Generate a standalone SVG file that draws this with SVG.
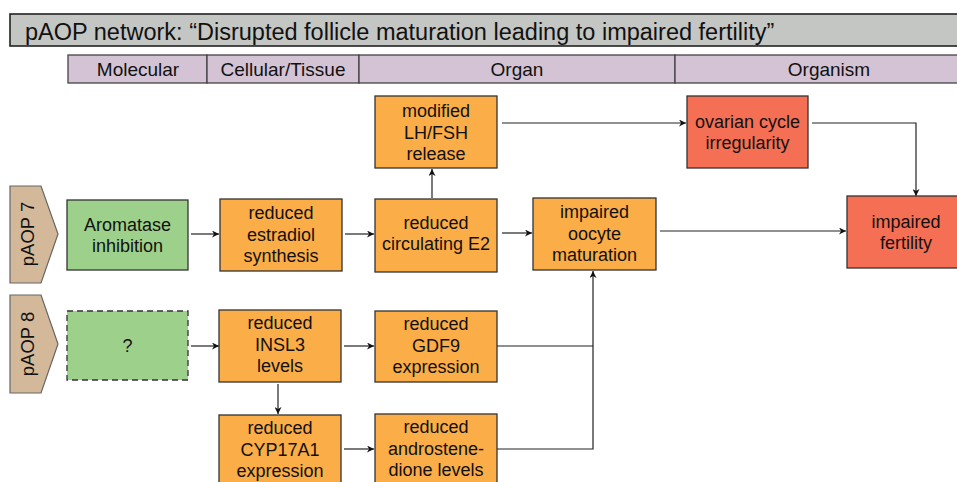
<svg xmlns="http://www.w3.org/2000/svg" width="957" height="482" viewBox="0 0 957 482">
<defs>
<marker id="ah" viewBox="0 0 10 10" refX="10" refY="5" markerWidth="8" markerHeight="7" markerUnits="userSpaceOnUse" orient="auto">
<path d="M0,0 L10,5 L0,10 L3,5 Z" fill="#111"/>
</marker>
<style>
text{font-family:"Liberation Sans",Arial,sans-serif;fill:#111;}
.t{font-size:18px;text-anchor:middle;}
.h{font-size:19px;text-anchor:middle;}
.box{stroke:#333;stroke-width:1.3;}
.g{fill:#9dd08a;}
.o{fill:#fbad48;}
.r{fill:#f46f54;}
.hd{fill:#d3c3d4;stroke:#444;stroke-width:1.3;}
.tag{fill:#d3b89a;stroke:#666;stroke-width:1.2;}
.c{fill:none;stroke:#222;stroke-width:1.2;}
.ca{fill:none;stroke:#222;stroke-width:1.2;marker-end:url(#ah);}
</style>
</defs>
<rect width="957" height="482" fill="#fff"/>
<g id="title">
<rect x="10" y="14" width="960" height="32" fill="#c4c6c4" stroke="#222" stroke-width="1.6"/>
<text x="25" y="40" style="font-size:23.5px">pAOP network: “Disrupted follicle maturation leading to impaired fertility”</text>
</g>
<g id="header">
<rect class="hd" x="68" y="55" width="139" height="28"/>
<rect class="hd" x="207" y="55" width="152" height="28"/>
<rect class="hd" x="359" y="55" width="316" height="28"/>
<rect class="hd" x="675" y="55" width="300" height="28"/>
<text class="h" x="138" y="76">Molecular</text>
<text class="h" x="283" y="76">Cellular/Tissue</text>
<text class="h" x="517" y="76">Organ</text>
<text class="h" x="829" y="76">Organism</text>
</g>
<g id="paop7">
<path class="tag" d="M10,186 L41,186 L58,234 L41,283 L10,283 Z"/>
<text transform="translate(34,234) rotate(-90)" style="font-size:18.5px;text-anchor:middle">pAOP 7</text>
</g>
<g id="paop8">
<path class="tag" d="M10,295 L41,295 L58,344 L41,393 L10,393 Z"/>
<text transform="translate(34,344) rotate(-90)" style="font-size:18.5px;text-anchor:middle">pAOP 8</text>
</g>
<g id="connectors">
<line class="ca" x1="191" y1="234" x2="219" y2="234"/>
<line class="ca" x1="345" y1="234" x2="374" y2="234"/>
<line class="ca" x1="432" y1="198" x2="432" y2="169"/>
<line class="ca" x1="502" y1="233" x2="532" y2="233"/>
<line class="ca" x1="502" y1="123" x2="686" y2="123"/>
<polyline class="ca" points="812,123 916,123 916,196"/>
<line class="ca" x1="660" y1="231" x2="846" y2="231"/>
<line class="ca" x1="191" y1="346" x2="219" y2="346"/>
<line class="ca" x1="278" y1="384" x2="278" y2="414"/>
<line class="ca" x1="344" y1="346" x2="374" y2="346"/>
<line class="ca" x1="344" y1="449" x2="374" y2="449"/>
<polyline class="c" points="497,346 593,346"/>
<polyline class="ca" points="497,449 593,449 593,271"/>
</g>
<g id="aromatase">
<rect class="box g" x="67" y="200" width="121" height="70"/>
<text class="t" x="127.5" y="230.5">Aromatase</text>
<text class="t" x="127.5" y="251.5">inhibition</text>
</g>
<g id="estradiol">
<rect class="box o" x="220" y="199" width="122" height="72"/>
<text class="t" x="281" y="219">reduced</text>
<text class="t" x="281" y="241">estradiol</text>
<text class="t" x="281" y="262">synthesis</text>
</g>
<g id="lhfsh">
<rect class="box o" x="375" y="96" width="122" height="72"/>
<text class="t" x="436" y="117">modified</text>
<text class="t" x="436" y="138.5">LH/FSH</text>
<text class="t" x="436" y="160">release</text>
</g>
<g id="e2">
<rect class="box o" x="375" y="199" width="122" height="73"/>
<text class="t" x="436" y="229">reduced</text>
<text class="t" x="436" y="250">circulating E2</text>
</g>
<g id="oocyte">
<rect class="box o" x="533" y="198" width="123" height="72"/>
<text class="t" x="594.5" y="218">impaired</text>
<text class="t" x="594.5" y="239.5">oocyte</text>
<text class="t" x="594.5" y="261">maturation</text>
</g>
<g id="ovarian">
<rect class="box r" x="687" y="96" width="121" height="72"/>
<text class="t" x="747.5" y="127.5">ovarian cycle</text>
<text class="t" x="747.5" y="148.5">irregularity</text>
</g>
<g id="fertility">
<rect class="box r" x="847" y="196" width="122" height="72"/>
<text class="t" x="906" y="228">impaired</text>
<text class="t" x="906" y="249">fertility</text>
</g>
<g id="unknown">
<rect class="box g" x="67" y="311" width="121" height="69" stroke-dasharray="6,4"/>
<text class="t" x="127.5" y="352">?</text>
</g>
<g id="insl3">
<rect class="box o" x="219" y="310" width="122" height="72"/>
<text class="t" x="280" y="329">reduced</text>
<text class="t" x="280" y="351">INSL3</text>
<text class="t" x="280" y="372">levels</text>
</g>
<g id="gdf9">
<rect class="box o" x="375" y="311" width="122" height="71"/>
<text class="t" x="436" y="330">reduced</text>
<text class="t" x="436" y="351.5">GDF9</text>
<text class="t" x="436" y="373">expression</text>
</g>
<g id="cyp17a1">
<rect class="box o" x="219" y="415" width="122" height="72"/>
<text class="t" x="280" y="434">reduced</text>
<text class="t" x="280" y="455.5">CYP17A1</text>
<text class="t" x="280" y="477">expression</text>
</g>
<g id="androstenedione">
<rect class="box o" x="375" y="414" width="122" height="72"/>
<text class="t" x="436" y="433">reduced</text>
<text class="t" x="436" y="454.5">androstene-</text>
<text class="t" x="436" y="476">dione levels</text>
</g>
</svg>
